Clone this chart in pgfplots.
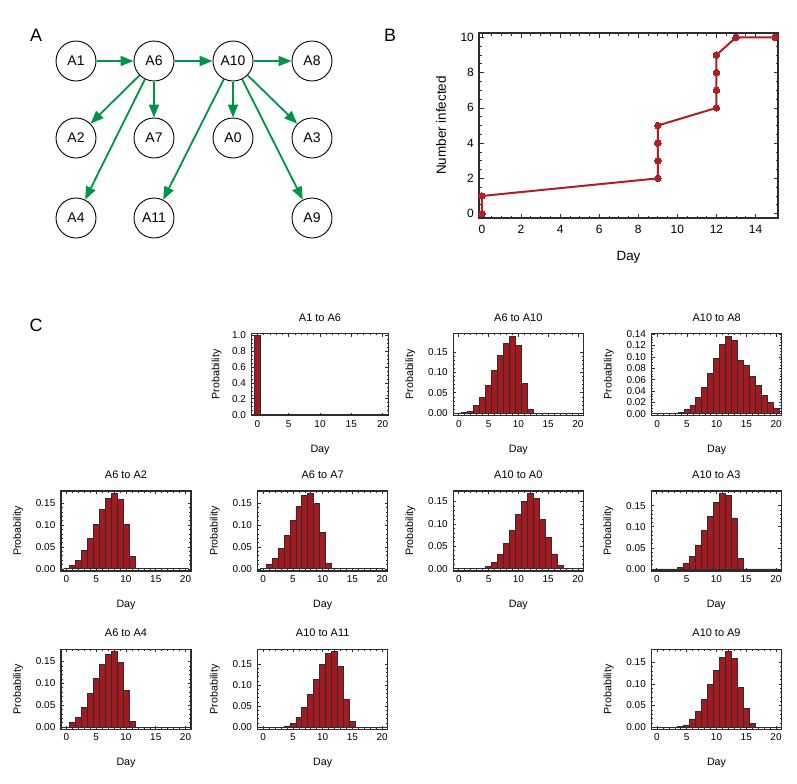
\documentclass[border=0pt]{standalone}
\usepackage{pgfplots}
\pgfplotsset{compat=1.18}
\usepackage{fontspec}
\setmainfont{Liberation Sans}
\usetikzlibrary{arrows.meta}
\definecolor{barred}{RGB}{163,26,33}
\definecolor{linered}{RGB}{176,30,38}
\definecolor{arrowgreen}{RGB}{0,148,70}
\definecolor{framec}{RGB}{45,45,45}
\tikzset{arr/.style={arrowgreen, line width=1.8bp, -{Triangle[length=13bp,width=10bp]}, shorten <=20.5bp, shorten >=20.5bp},
  nlab/.style={font=\fontsize{14}{16}\selectfont, inner sep=0pt}}
\pgfplotsset{
  /pgf/number format/assume math mode=true,
  hist/.style={
    scale only axis, height=80bp, width=130bp,
    xmin=-0.92, xmax=20.92,
    xtick={0,5,10,15,20}, minor x tick num=4,
    minor y tick num=4,
    scaled y ticks=false,
    tick align=inside, major tick length=3bp, minor tick length=1.6bp,
    tick style={framec, line width=0.6bp},
    axis line style={framec, line width=1.4bp},
    font=\fontsize{10}{12}\selectfont,
    xlabel={Day}, ylabel={Probability},
    xlabel style={at={(axis description cs:0.5,-0.42)}, anchor=center, inner sep=0pt, font=\fontsize{10.7}{12}\selectfont},
    ylabel style={at={(axis description cs:-0.33,0.5)}, anchor=center, inner sep=0pt, font=\fontsize{10.7}{12}\selectfont},
    title style={at={(axis description cs:0.5,1)}, anchor=base, yshift=6.5bp, inner sep=0pt, font=\fontsize{11}{13}\selectfont},
    xticklabel style={inner sep=0pt, anchor=north, yshift=-4.5bp},
    yticklabel style={inner sep=0pt, anchor=east, xshift=-5.5bp},
    y tick label style={/pgf/number format/fixed, /pgf/number format/fixed zerofill, /pgf/number format/precision=2},
  },
  bars/.style={ybar, bar width=1, fill=barred, draw=framec, line width=0.8bp},
}
\begin{document}
\begin{tikzpicture}
\path[use as bounding box] (0bp,0bp) rectangle (797bp,-784bp);
\node[font=\fontsize{18}{20}\selectfont] at (36bp,-35bp) {A};
\node[font=\fontsize{18}{20}\selectfont] at (390bp,-35bp) {B};
\node[font=\fontsize{18}{20}\selectfont] at (36bp,-325bp) {C};

% ---------- Panel A: transmission tree
\begin{axis}[at={(0bp,0bp)}, anchor=north west, scale only axis, width=400bp, height=280bp,
  xmin=0, xmax=400, ymin=0, ymax=280, y dir=reverse, axis lines=none, clip=false]
\draw[arr] (axis cs:76,61) -- (axis cs:154,61);
\draw[arr] (axis cs:154,61) -- (axis cs:233,61);
\draw[arr] (axis cs:233,61) -- (axis cs:312,61);
\draw[arr] (axis cs:154,61) -- (axis cs:76,138);
\draw[arr] (axis cs:154,61) -- (axis cs:154,138);
\draw[arr] (axis cs:154,61) -- (axis cs:76,218);
\draw[arr] (axis cs:233,61) -- (axis cs:233,138);
\draw[arr] (axis cs:233,61) -- (axis cs:312,138);
\draw[arr] (axis cs:233,61) -- (axis cs:154,218);
\draw[arr] (axis cs:233,61) -- (axis cs:312,218);
\addplot[only marks, mark=o, mark size=20bp, mark options={draw=black, line width=0.9bp}]
  table {
x y
76 61
154 61
233 61
312 61
76 138
154 138
233 138
312 138
76 218
154 218
312 218
};
\node[nlab] at (axis cs:76,61) {A1};
\node[nlab] at (axis cs:154,61) {A6};
\node[nlab] at (axis cs:233,61) {A10};
\node[nlab] at (axis cs:312,61) {A8};
\node[nlab] at (axis cs:76,138) {A2};
\node[nlab] at (axis cs:154,138) {A7};
\node[nlab] at (axis cs:233,138) {A0};
\node[nlab] at (axis cs:312,138) {A3};
\node[nlab] at (axis cs:76,218) {A4};
\node[nlab] at (axis cs:154,218) {A11};
\node[nlab] at (axis cs:312,218) {A9};
\end{axis}

% ---------- Panel B
\begin{axis}[at={(479bp,-33bp)}, anchor=north west, scale only axis, width=299bp, height=185bp,
  xmin=-0.15, xmax=15.15, ymin=-0.25, ymax=10.25,
  xtick={0,2,...,14}, ytick={0,2,...,10}, minor x tick num=3, minor y tick num=3,
  tick align=inside, major tick length=4.5bp, minor tick length=2.5bp,
  tick style={framec, line width=0.7bp}, axis line style={framec, line width=1.3bp},
  font=\fontsize{12}{14}\selectfont,
  xlabel={Day}, ylabel={Number infected},
  xlabel style={at={(axis description cs:0.5,-0.211)}, anchor=center, inner sep=0pt, font=\fontsize{13.5}{15}\selectfont},
  ylabel style={at={(axis description cs:-0.127,0.5)}, anchor=center, inner sep=0pt, font=\fontsize{13.5}{15}\selectfont},
  xticklabel style={inner sep=0pt, anchor=north, yshift=-7bp},
  yticklabel style={inner sep=0pt, anchor=east, xshift=-5bp},
]
\addplot[linered, line width=2bp, mark=*, mark size=3.3bp, mark options={fill=linered, draw=linered, line width=0pt}]
  coordinates {(0,0) (0,1) (9,2) (9,3) (9,4) (9,5) (12,6) (12,7) (12,8) (12,9) (13,10) (15,10)};
\end{axis}

% ---------- Panel C, row 1
\begin{axis}[hist, at={(251.7bp,-333.5bp)}, anchor=north west, width=136.6bp, height=82bp,
  title={A1 to A6}, ymin=-0.01, ymax=1.02, ytick={0,0.2,0.4,0.6,0.8,1.0}, minor y tick num=3,
  y tick label style={/pgf/number format/precision=1},
  ylabel style={at={(axis description cs:-0.256,0.5)}}]
\addplot[bars] coordinates {(0,1.0) (1,0) (2,0) (3,0) (4,0) (5,0) (6,0) (7,0) (8,0) (9,0) (10,0)
  (11,0) (12,0) (13,0) (14,0) (15,0) (16,0) (17,0) (18,0) (19,0) (20,0)};
\end{axis}

\begin{axis}[hist, at={(453.3bp,-333.5bp)}, anchor=north west, height=82bp,
  title={A6 to A10}, ymin=-0.006, ymax=0.196, ytick={0,0.05,0.10,0.15}]
\addplot[bars] coordinates {(0,0) (1,0.001) (2,0.004) (3,0.018) (4,0.039) (5,0.069) (6,0.106)
  (7,0.141) (8,0.172) (9,0.188) (10,0.167) (11,0.073) (12,0.008) (13,0) (14,0) (15,0) (16,0)
  (17,0) (18,0) (19,0) (20,0)};
\end{axis}

\begin{axis}[hist, at={(651.7bp,-333.5bp)}, anchor=north west, height=82bp,
  title={A10 to A8}, ymin=-0.003, ymax=0.141, ytick={0,0.02,0.04,0.06,0.08,0.10,0.12,0.14}, minor y tick num=3]
\addplot[bars] coordinates {(0,0) (1,0) (2,0) (3,0.0005) (4,0.003) (5,0.007) (6,0.015)
  (7,0.028) (8,0.047) (9,0.071) (10,0.097) (11,0.122) (12,0.136) (13,0.129) (14,0.093)
  (15,0.085) (16,0.066) (17,0.049) (18,0.033) (19,0.020) (20,0.009)};
\end{axis}

% ---------- row 2
\begin{axis}[hist, at={(61bp,-491bp)}, anchor=north west,
  title={A6 to A2}, ymin=-0.005, ymax=0.178, ytick={0,0.05,0.10,0.15}]
\addplot[bars] coordinates {(0,0) (1,0.008) (2,0.020) (3,0.041) (4,0.069) (5,0.101) (6,0.135)
  (7,0.161) (8,0.173) (9,0.158) (10,0.102) (11,0.028) (12,0.0015) (13,0) (14,0) (15,0) (16,0)
  (17,0) (18,0) (19,0) (20,0)};
\end{axis}

\begin{axis}[hist, at={(257.7bp,-491bp)}, anchor=north west,
  title={A6 to A7}, ymin=-0.005, ymax=0.178, ytick={0,0.05,0.10,0.15}]
\addplot[bars] coordinates {(0,0) (1,0.010) (2,0.023) (3,0.047) (4,0.077) (5,0.111) (6,0.143)
  (7,0.167) (8,0.173) (9,0.149) (10,0.084) (11,0.012) (12,0) (13,0) (14,0) (15,0) (16,0)
  (17,0) (18,0) (19,0) (20,0)};
\end{axis}

\begin{axis}[hist, at={(453.3bp,-491bp)}, anchor=north west,
  title={A10 to A0}, ymin=-0.005, ymax=0.173, ytick={0,0.05,0.10,0.15}]
\addplot[bars] coordinates {(0,0) (1,0) (2,0) (3,0) (4,0.001) (5,0.006) (6,0.015)
  (7,0.031) (8,0.056) (9,0.086) (10,0.120) (11,0.149) (12,0.168) (13,0.157) (14,0.110)
  (15,0.070) (16,0.033) (17,0.007) (18,0) (19,0) (20,0)};
\end{axis}

\begin{axis}[hist, at={(651.3bp,-491bp)}, anchor=north west,
  title={A10 to A3}, ymin=-0.005, ymax=0.185, ytick={0,0.05,0.10,0.15}]
\addplot[bars] coordinates {(0,0) (1,0) (2,0) (3,0) (4,0.003) (5,0.012) (6,0.030)
  (7,0.057) (8,0.091) (9,0.125) (10,0.158) (11,0.180) (12,0.174) (13,0.121) (14,0.024)
  (15,0) (16,0) (17,0) (18,0) (19,0) (20,0)};
\end{axis}

% ---------- row 3
\begin{axis}[hist, at={(61bp,-649.3bp)}, anchor=north west,
  title={A6 to A4}, ymin=-0.005, ymax=0.178, ytick={0,0.05,0.10,0.15}]
\addplot[bars] coordinates {(0,0) (1,0.010) (2,0.023) (3,0.046) (4,0.077) (5,0.111) (6,0.144)
  (7,0.167) (8,0.174) (9,0.148) (10,0.083) (11,0.012) (12,0) (13,0) (14,0) (15,0) (16,0)
  (17,0) (18,0) (19,0) (20,0)};
\end{axis}

\begin{axis}[hist, at={(257.7bp,-649.3bp)}, anchor=north west,
  title={A10 to A11}, ymin=-0.005, ymax=0.185, ytick={0,0.05,0.10,0.15}]
\addplot[bars] coordinates {(0,0) (1,0) (2,0) (3,0) (4,0.003) (5,0.009) (6,0.024)
  (7,0.047) (8,0.078) (9,0.114) (10,0.149) (11,0.175) (12,0.179) (13,0.145) (14,0.065)
  (15,0.014) (16,0) (17,0) (18,0) (19,0) (20,0)};
\end{axis}

\begin{axis}[hist, at={(651.5bp,-649.3bp)}, anchor=north west,
  title={A10 to A9}, ymin=-0.005, ymax=0.180, ytick={0,0.05,0.10,0.15}]
\addplot[bars] coordinates {(0,0) (1,0) (2,0) (3,0) (4,0.002) (5,0.005) (6,0.019)
  (7,0.037) (8,0.064) (9,0.098) (10,0.132) (11,0.162) (12,0.176) (13,0.158) (14,0.092)
  (15,0.044) (16,0.009) (17,0) (18,0) (19,0) (20,0)};
\end{axis}
\end{tikzpicture}
\end{document}
